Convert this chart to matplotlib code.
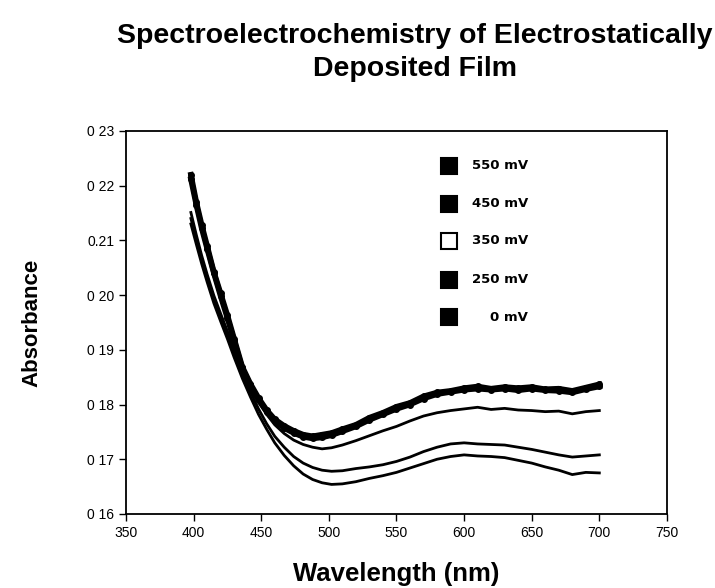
import matplotlib
matplotlib.use("Agg")
import matplotlib.pyplot as plt
import numpy as np

# wavelength grid (nm)
wavelength = [398, 402, 406, 410, 415, 420, 425, 430, 436, 442, 448, 454, 460, 467,
              474, 481, 488, 495, 502, 510, 520, 530, 540, 550, 560, 570, 580, 590,
              600, 610, 620, 630, 640, 650, 660, 670, 680, 690, 700]

abs_550 = [0.2220, 0.2170, 0.2128, 0.2090, 0.2042, 0.2003, 0.1963, 0.1920, 0.1869,
           0.1838, 0.1812, 0.1790, 0.1773, 0.1761, 0.1752, 0.1745, 0.1742, 0.1745,
           0.1748, 0.1755, 0.1763, 0.1776, 0.1785, 0.1796, 0.1803, 0.1815, 0.1822,
           0.1825, 0.1830, 0.1833, 0.1829, 0.1832, 0.1830, 0.1832, 0.1828, 0.1829,
           0.1825, 0.1831, 0.1837]
abs_450 = [0.2212, 0.2165, 0.2122, 0.2085, 0.2040, 0.1998, 0.1958, 0.1916, 0.1866,
           0.1835, 0.1808, 0.1787, 0.1770, 0.1757, 0.1748, 0.1741, 0.1738, 0.1740,
           0.1744, 0.1751, 0.1760, 0.1772, 0.1782, 0.1792, 0.1800, 0.1811, 0.1819,
           0.1823, 0.1827, 0.1829, 0.1827, 0.1829, 0.1826, 0.1829, 0.1826, 0.1825,
           0.1822, 0.1828, 0.1833]
abs_350 = [0.2151, 0.2110, 0.2072, 0.2038, 0.1999, 0.1966, 0.1934, 0.1900, 0.1863,
           0.1832, 0.1806, 0.1782, 0.1763, 0.1747, 0.1735, 0.1727, 0.1722, 0.1719,
           0.1721, 0.1726, 0.1734, 0.1743, 0.1752, 0.1760, 0.1770, 0.1779, 0.1785,
           0.1789, 0.1792, 0.1795, 0.1791, 0.1793, 0.1790, 0.1789, 0.1787, 0.1788,
           0.1783, 0.1787, 0.1789]
abs_250 = [0.2140, 0.2102, 0.2065, 0.2032, 0.1993, 0.1960, 0.1928, 0.1894, 0.1857,
           0.1823, 0.1792, 0.1765, 0.1742, 0.1722, 0.1705, 0.1693, 0.1685, 0.1680,
           0.1678, 0.1679, 0.1683, 0.1686, 0.1690, 0.1696, 0.1704, 0.1714, 0.1722,
           0.1728, 0.1730, 0.1728, 0.1727, 0.1726, 0.1722, 0.1718, 0.1713, 0.1708,
           0.1704, 0.1706, 0.1708]
abs_0 = [0.2130, 0.2093, 0.2057, 0.2024, 0.1985, 0.1952, 0.1920, 0.1886, 0.1848,
         0.1814, 0.1782, 0.1755, 0.1730, 0.1707, 0.1688, 0.1673, 0.1663, 0.1657,
         0.1654, 0.1655, 0.1659, 0.1665, 0.1670, 0.1676, 0.1684, 0.1692, 0.1700,
         0.1705, 0.1708, 0.1706, 0.1705, 0.1703, 0.1698, 0.1693, 0.1686, 0.1680,
         0.1672, 0.1676, 0.1675]

legend_labels = ["550 mV", "450 mV", "350 mV", "250 mV", "0 mV"]
legend_faces = ["black", "black", "white", "black", "black"]

y_ticks = [0.16, 0.17, 0.18, 0.19, 0.20, 0.21, 0.22, 0.23]
y_tick_labels = ["0 16", "0 17", "0 18", "0 19", "0 20", "0.21", "0 22", "0 23"]
x_ticks = [350, 400, 450, 500, 550, 600, 650, 700, 750]

plt.rcParams['font.family'] = ['Liberation Sans', 'DejaVu Sans']

fig = plt.figure(figsize=(7.15, 5.88), dpi=100)
ax = fig.add_axes([0.1762, 0.1259, 0.7566, 0.6514])

# the two highest potentials overlap as a thick dotted band
ax.plot(wavelength, abs_550, color='black', lw=4, marker='o', ms=4)
ax.plot(wavelength, abs_450, color='black', lw=4, marker='o', ms=4)
ax.plot(wavelength, abs_350, color='black', lw=2)
ax.plot(wavelength, abs_250, color='black', lw=2)
ax.plot(wavelength, abs_0, color='black', lw=2)

ax.set_xlim(350, 750)
ax.set_ylim(0.16, 0.23)
ax.set_xticks(x_ticks)
ax.set_yticks(y_ticks)
ax.set_yticklabels(y_tick_labels)
ax.tick_params(axis='both', labelsize=10, length=5, width=1, direction='out')
for sp in ax.spines.values():
    sp.set_linewidth(1.3)

# hand-made legend, no frame
leg_y = [0.909, 0.810, 0.713, 0.611, 0.514]
for lab, fc, yy in zip(legend_labels, legend_faces, leg_y):
    ax.plot([0.5979], [yy], marker='s', ms=11, mfc=fc, mec='black', mew=1.5,
            transform=ax.transAxes, clip_on=False)
    ax.text(0.743, yy, lab, transform=ax.transAxes, ha='right', va='center',
            fontsize=9.5, fontweight='bold', family='DejaVu Sans')

fig.text(0.58, 1 - 36 / 588, "Spectroelectrochemistry of Electrostatically",
         ha='center', va='center', fontsize=20.5, fontweight='bold')
fig.text(0.58, 1 - 69 / 588, "Deposited Film",
         ha='center', va='center', fontsize=20.5, fontweight='bold')
ax.set_ylabel("Absorbance", fontsize=16, fontweight='bold', labelpad=32)
ax.set_xlabel("Wavelength (nm)", fontsize=18.5, fontweight='bold', labelpad=16)

fig.savefig("out.png", dpi=100)
